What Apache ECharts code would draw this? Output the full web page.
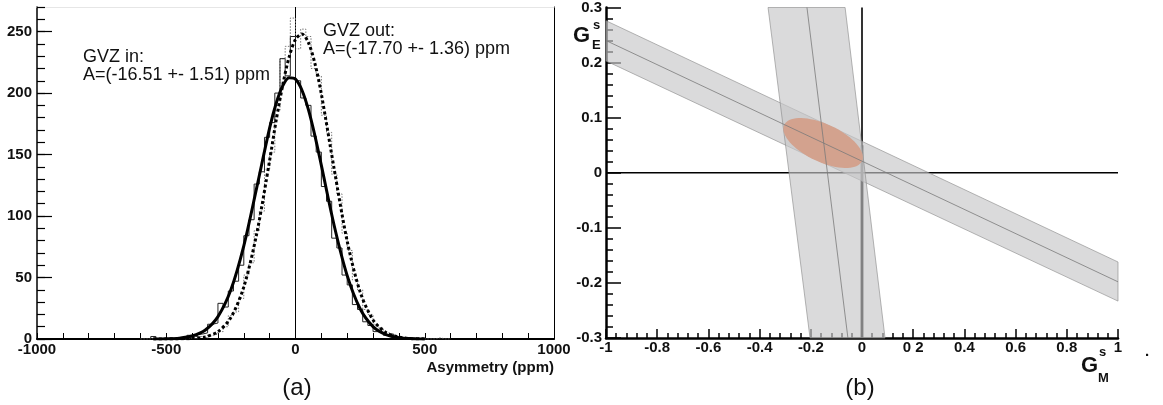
<!DOCTYPE html>
<html>
<head>
<meta charset="utf-8">
<script src="https://cdn.jsdelivr.net/npm/echarts@6/dist/echarts.min.js"></script>
<style>
  html, body { margin: 0; padding: 0; background: #fff; }
  #main { width: 1163px; height: 405px; }
</style>
</head>
<body>
<div id="main"></div>
<script>
// ---- panel (a): asymmetry histograms, 20 ppm bins starting at -600 ----
const histStart = -600;
const binWidth = 20;
const countsIn = [0, 0, 2, 0, 0, 1, 0, 1, 1, 3, 2, 4, 5, 12, 13, 29, 26, 39, 47, 60,
  84, 97, 126, 136, 164, 176, 200, 228, 214, 246, 210, 196, 190, 165, 152, 124, 112, 82, 74, 52,
  44, 28, 24, 14, 11, 6, 5, 3, 4, 1, 1, 0, 1, 0, 0, 0, 0, 0, 0, 0];
const countsOut = [0, 0, 0, 0, 0, 0, 1, 0, 0, 1, 0, 2, 1, 3, 4, 6, 10, 19, 22, 33,
  52, 62, 88, 104, 138, 152, 186, 228, 238, 261, 236, 252, 246, 220, 214, 182, 168, 134, 118, 86,
  72, 48, 40, 24, 20, 12, 9, 5, 4, 2, 1, 1, 0, 1, 0, 0, 0, 1, 0, 0];

// fitted curves
const fitX = [-550, -500, -450, -400, -350, -300, -250, -200, -150, -100, -75, -50, -25, 0, 25, 50, 75, 100, 150, 200, 250, 300, 350, 400, 450, 500];
const fitInY = [0, 0.2, 0.7, 2.4, 7.1, 18.2, 40, 75.8, 123.1, 171.7, 191.5, 205.6, 212.5, 211.3, 202.3, 186.5, 165.4, 141.2, 91.9, 51.5, 24.6, 10.1, 3.6, 1.1, 0.3, 0.1];
const fitOutY = [0, 0.05, 0.1, 0.4, 1.7, 6.0, 17.4, 42.3, 85.7, 145.3, 177.6, 205.9, 229.1, 243.7, 248, 241.1, 224.2, 199.3, 137.7, 79.5, 38.3, 15.5, 5.2, 1.5, 0.3, 0.1];

const asymTicks = [-1000, -900, -800, -700, -600, -500, -400, -300, -200, -100, 0, 100, 200, 300, 400, 500, 600, 700, 800, 900, 1000];
const asymLabels = [-1000, -500, 0, 500, 1000];
const countMinorTicks = [0, 10, 20, 30, 40, 50, 60, 70, 80, 90, 100, 110, 120, 130, 140, 150, 160, 170, 180, 190, 200, 210, 220, 230, 240, 250, 260, 270];
const countTicks = [0, 50, 100, 150, 200, 250];

// ---- panel (b): G_E^s vs G_M^s constraints ----
const gmTicks = [-1, -0.8, -0.6, -0.4, -0.2, 0, 0.2, 0.4, 0.6, 0.8, 1];
const gmTickLabels = ['-1', '-0.8', '-0.6', '-0.4', '-0.2', '0', '0 2', '0.4', '0.6', '0.8', '1'];
const geTicks = [-0.3, -0.2, -0.1, 0, 0.1, 0.2, 0.3];
const geTickLabels = ['-0.3', '-0.2', '-0.1', '0', '0.1', '0.2', '0.3'];

// diagonal band: at G_M = -1 and 1
const diagX = [-1, 1];
const diagUpper = [0.276, -0.162];
const diagMid = [0.240, -0.198];
const diagLower = [0.203, -0.233];
// steep band: at G_E = 0.3 and -0.3
const vertY = [0.3, -0.3];
const vertLeft = [-0.367, -0.203];
const vertMid = [-0.215, -0.055];
const vertRight = [-0.066, 0.09];
// combined error ellipse: centre, major and minor half axes
const ellipseCenter = [-0.152, 0.054];
const ellipseMajor = [0.152, -0.033];
const ellipseMinor = [0.032, 0.031];

const FONT = '"Liberation Sans", Arial, sans-serif';

function steps(a, b, n) {
  const out = [];
  for (let i = 0; i <= n; i++) out.push(+(a + (b - a) * i / n).toFixed(4));
  return out;
}

function stepData(counts) {
  const d = counts.map((c, i) => [histStart + i * binWidth, c]);
  d.push([histStart + counts.length * binWidth, 0]);
  return d;
}

function labelFrom(values, labels) {
  return function (v) {
    for (let i = 0; i < values.length; i++) {
      if (Math.abs(values[i] - v) < 1e-9) return labels[i];
    }
    return '';
  };
}

function polygonSeries(points, fill, stroke, z) {
  return {
    type: 'custom',
    xAxisIndex: 2,
    yAxisIndex: 3,
    z: z,
    silent: true,
    data: [[0, 0]],
    renderItem: function (params, api) {
      return {
        type: 'polygon',
        shape: { points: points.map(p => api.coord(p)) },
        style: { fill: fill, stroke: stroke, lineWidth: 0.8 }
      };
    }
  };
}

const chart = echarts.init(document.getElementById('main'));

const labelStyle = { fontFamily: FONT, fontWeight: 'bold', fontSize: 15, color: '#111' };

const ellipsePts = [];
for (let k = 0; k < 72; k++) {
  const t = k / 72 * Math.PI * 2;
  ellipsePts.push([
    ellipseCenter[0] + Math.cos(t) * ellipseMajor[0] + Math.sin(t) * ellipseMinor[0],
    ellipseCenter[1] + Math.cos(t) * ellipseMajor[1] + Math.sin(t) * ellipseMinor[1]
  ]);
}

const option = {
  animation: false,
  backgroundColor: '#fff',
  grid: [
    { left: 37, top: 7, width: 517, height: 332 },
    { left: 606, top: 7, width: 512, height: 331 }
  ],
  xAxis: [
    {
      gridIndex: 0, type: 'value', min: -1000, max: 1000, position: 'bottom',
      axisLine: { onZero: false, lineStyle: { color: '#000', width: 2 } },
      axisTick: { inside: true, length: 6, customValues: asymTicks, lineStyle: { color: '#000' } },
      axisLabel: Object.assign({ customValues: asymLabels, margin: 3, formatter: v => String(v) }, labelStyle),
      splitLine: { show: false }
    },
    {
      gridIndex: 0, type: 'value', min: -1000, max: 1000, position: 'top',
      axisLine: { onZero: false, lineStyle: { color: '#e6e6e6', width: 1 } },
      axisTick: { show: false }, axisLabel: { show: false }, splitLine: { show: false }
    },
    {
      gridIndex: 1, type: 'value', min: -1, max: 1, position: 'bottom',
      axisLine: { onZero: false, lineStyle: { color: '#000', width: 2.5 } },
      axisTick: { inside: true, length: 5, customValues: steps(-1, 1, 50), lineStyle: { color: '#000', width: 1.5 } },
      axisLabel: { show: false },
      splitLine: { show: false }
    },
    {
      gridIndex: 1, type: 'value', min: -1, max: 1, position: 'bottom',
      axisLine: { show: false, onZero: false },
      axisTick: { inside: true, length: 9, customValues: gmTicks, lineStyle: { color: '#000', width: 1.5 } },
      axisLabel: Object.assign({ customValues: gmTicks, margin: 2, formatter: labelFrom(gmTicks, gmTickLabels) }, labelStyle),
      splitLine: { show: false }
    }
  ],
  yAxis: [
    {
      gridIndex: 0, type: 'value', min: 0, max: 270, position: 'left',
      axisLine: { show: true, onZero: false, lineStyle: { color: '#000', width: 1.5 } },
      axisTick: { inside: true, length: 8, customValues: countMinorTicks, lineStyle: { color: '#000', width: 1.2 } },
      axisLabel: { show: false }, splitLine: { show: false }
    },
    {
      gridIndex: 0, type: 'value', min: 0, max: 270, position: 'left',
      axisLine: { show: false, onZero: false },
      axisTick: { inside: true, length: 15, customValues: countTicks, lineStyle: { color: '#000', width: 1.2 } },
      axisLabel: Object.assign({ customValues: countTicks, margin: 5 }, labelStyle),
      splitLine: { show: false }
    },
    {
      gridIndex: 0, type: 'value', min: 0, max: 270, position: 'right',
      axisLine: { show: true, onZero: false, lineStyle: { color: '#000', width: 1 } },
      axisTick: { show: false }, axisLabel: { show: false }, splitLine: { show: false }
    },
    {
      gridIndex: 1, type: 'value', min: -0.3, max: 0.3, position: 'left',
      axisLine: { show: true, onZero: false, lineStyle: { color: '#000', width: 2.5 } },
      axisTick: { inside: true, length: 7, customValues: steps(-0.3, 0.3, 30), lineStyle: { color: '#000', width: 1.5 } },
      axisLabel: { show: false }, splitLine: { show: false }
    },
    {
      gridIndex: 1, type: 'value', min: -0.3, max: 0.3, position: 'left',
      axisLine: { show: false, onZero: false },
      axisTick: { inside: true, length: 15, customValues: geTicks, lineStyle: { color: '#000', width: 1.5 } },
      axisLabel: Object.assign({ customValues: geTicks, margin: 4, formatter: labelFrom(geTicks, geTickLabels) }, labelStyle),
      splitLine: { show: false }
    }
  ],
  series: [
    // panel (a)
    {
      type: 'line', xAxisIndex: 0, yAxisIndex: 0, z: 1, symbol: 'none', silent: true,
      data: [[0, 0], [0, 270]],
      lineStyle: { color: '#000', width: 1 }
    },
    {
      name: 'GVZ out hist', type: 'line', xAxisIndex: 0, yAxisIndex: 0, step: 'end', symbol: 'none', z: 2,
      data: stepData(countsOut),
      lineStyle: { color: '#777', width: 1, type: [1.5, 1.5] }
    },
    {
      name: 'GVZ in hist', type: 'line', xAxisIndex: 0, yAxisIndex: 0, step: 'end', symbol: 'none', z: 3,
      data: stepData(countsIn),
      lineStyle: { color: '#222', width: 1 }
    },
    {
      name: 'GVZ out fit', type: 'line', xAxisIndex: 0, yAxisIndex: 0, smooth: 0.3, symbol: 'none', z: 4,
      data: fitX.map((x, i) => [x, fitOutY[i]]),
      lineStyle: { color: '#000', width: 3, type: [3, 2.5] }
    },
    {
      name: 'GVZ in fit', type: 'line', xAxisIndex: 0, yAxisIndex: 0, smooth: 0.3, symbol: 'none', z: 5,
      data: fitX.map((x, i) => [x, fitInY[i]]),
      lineStyle: { color: '#000', width: 3 }
    },
    // panel (b): reference lines under the bands
    {
      type: 'line', xAxisIndex: 2, yAxisIndex: 3, z: 1, symbol: 'none', silent: true,
      data: [[-1, 0], [1, 0]], lineStyle: { color: '#000', width: 1.6 }
    },
    {
      type: 'line', xAxisIndex: 2, yAxisIndex: 3, z: 1, symbol: 'none', silent: true,
      data: [[0, -0.3], [0, 0.3]], lineStyle: { color: '#000', width: 1.6 }
    },
    {
      type: 'line', xAxisIndex: 2, yAxisIndex: 3, z: 1, symbol: 'none', silent: true,
      data: [[0, -0.3], [0, 0.05]], lineStyle: { color: '#000', width: 2.8 }
    },
    polygonSeries([
      [diagX[0], diagUpper[0]], [diagX[1], diagUpper[1]],
      [diagX[1], diagLower[1]], [diagX[0], diagLower[0]]
    ], 'rgba(198,198,200,0.65)', 'rgba(140,140,140,0.8)', 3),
    polygonSeries([
      [vertLeft[0], vertY[0]], [vertRight[0], vertY[0]],
      [vertRight[1], vertY[1]], [vertLeft[1], vertY[1]]
    ], 'rgba(198,198,200,0.65)', 'rgba(140,140,140,0.8)', 3),
    polygonSeries(ellipsePts, '#d3a28e', null, 4),
    {
      type: 'line', xAxisIndex: 2, yAxisIndex: 3, z: 5, symbol: 'none', silent: true,
      data: [[diagX[0], diagMid[0]], [diagX[1], diagMid[1]]],
      lineStyle: { color: '#7a7a7a', width: 0.8 }
    },
    {
      type: 'line', xAxisIndex: 2, yAxisIndex: 3, z: 5, symbol: 'none', silent: true,
      data: [[vertMid[0], vertY[0]], [vertMid[1], vertY[1]]],
      lineStyle: { color: '#7a7a7a', width: 0.8 }
    }
  ],
  graphic: [
    { type: 'text', x: 83, y: 57, style: { text: 'GVZ in:', font: '18px ' + FONT, fill: '#111', align: 'left', verticalAlign: 'middle' } },
    { type: 'text', x: 83, y: 75, style: { text: 'A=(-16.51 +- 1.51) ppm', font: '18px ' + FONT, fill: '#111', align: 'left', verticalAlign: 'middle' } },
    { type: 'text', x: 323, y: 31, style: { text: 'GVZ out:', font: '18px ' + FONT, fill: '#111', align: 'left', verticalAlign: 'middle' } },
    { type: 'text', x: 323, y: 49, style: { text: 'A=(-17.70 +- 1.36) ppm', font: '18px ' + FONT, fill: '#111', align: 'left', verticalAlign: 'middle' } },
    { type: 'text', x: 554, y: 368, style: { text: 'Asymmetry (ppm)', font: 'bold 15px ' + FONT, fill: '#111', align: 'right', verticalAlign: 'middle' } },
    { type: 'text', x: 297, y: 388, style: { text: '(a)', font: '24px ' + FONT, fill: '#111', align: 'center', verticalAlign: 'middle' } },
    { type: 'text', x: 860, y: 388, style: { text: '(b)', font: '24px ' + FONT, fill: '#111', align: 'center', verticalAlign: 'middle' } },
    { type: 'text', x: 573, y: 36, style: { text: 'G', font: 'bold 22px ' + FONT, fill: '#111', align: 'left', verticalAlign: 'middle' } },
    { type: 'text', x: 593, y: 25, style: { text: 's', font: 'bold 13px ' + FONT, fill: '#111', align: 'left', verticalAlign: 'middle' } },
    { type: 'text', x: 592, y: 45, style: { text: 'E', font: 'bold 13px ' + FONT, fill: '#111', align: 'left', verticalAlign: 'middle' } },
    { type: 'text', x: 1081, y: 366, style: { text: 'G', font: 'bold 22px ' + FONT, fill: '#111', align: 'left', verticalAlign: 'middle' } },
    { type: 'text', x: 1099, y: 352, style: { text: 's', font: 'bold 13px ' + FONT, fill: '#111', align: 'left', verticalAlign: 'middle' } },
    { type: 'text', x: 1098, y: 378, style: { text: 'M', font: 'bold 13px ' + FONT, fill: '#111', align: 'left', verticalAlign: 'middle' } },
    { type: 'text', x: 1147, y: 352, style: { text: '.', font: 'bold 15px ' + FONT, fill: '#111', align: 'center', verticalAlign: 'middle' } }
  ]
};

chart.setOption(option);
</script>
</body>
</html>
